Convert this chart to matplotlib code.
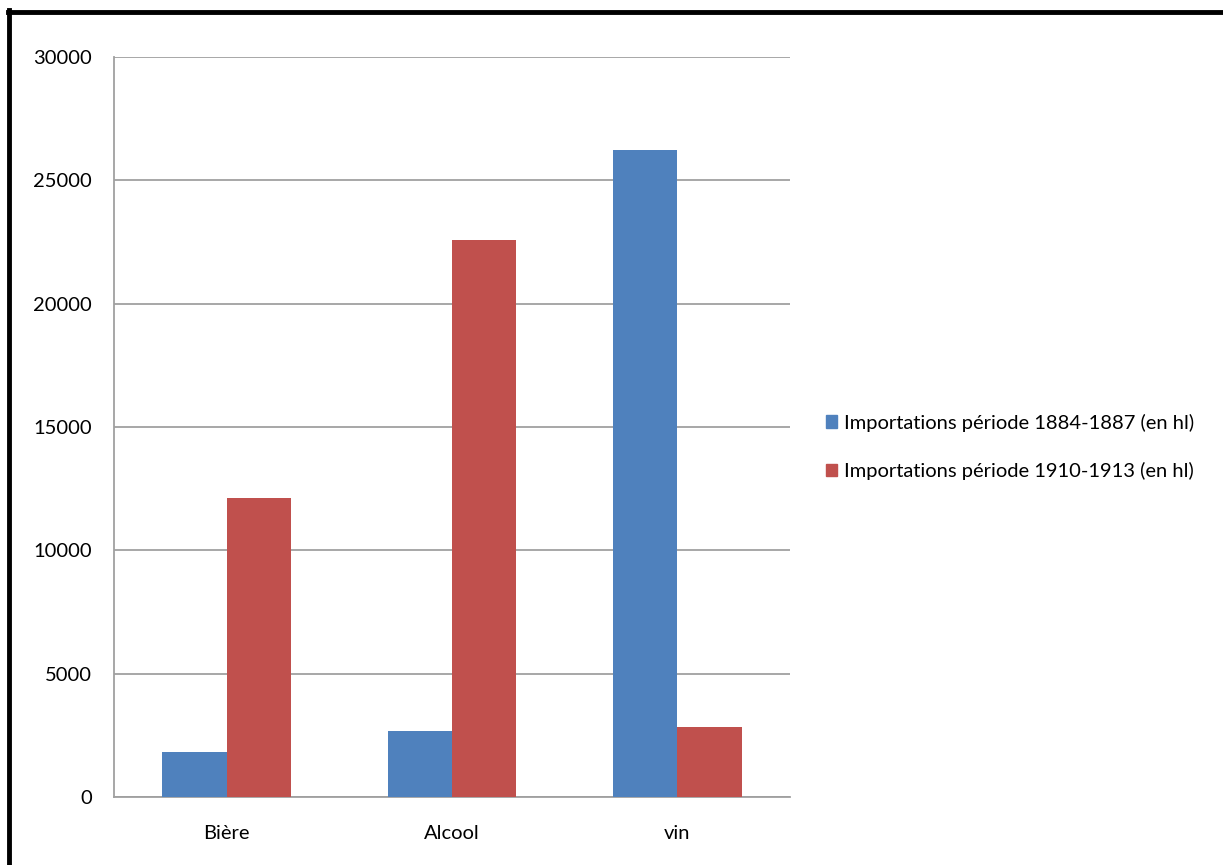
import numpy as np
import matplotlib
matplotlib.use('Agg')
import matplotlib.pyplot as plt
from matplotlib.patches import Patch
from matplotlib.lines import Line2D

# Données
categories = ['Bière', 'Alcool', 'vin']
import_1884_1887 = [1830, 2680, 26240]
import_1910_1913 = [12130, 22590, 2840]
series_labels = ['Importations période 1884-1887 (en hl)',
                 'Importations période 1910-1913 (en hl)']

plt.rcParams['font.family'] = ['Lato', 'DejaVu Sans']

fig = plt.figure(figsize=(12.23, 8.65), dpi=100)
ax = fig.add_axes([114 / 1223, 1 - 797 / 865, 676 / 1223, 740 / 865])

x = np.arange(len(categories))
w = 0.2857
ax.bar(x - w / 2, import_1884_1887, w, color='#4F81BD', zorder=3)
ax.bar(x + w / 2, import_1910_1913, w, color='#C0504D', zorder=3)

ax.set_xlim(-0.5, len(categories) - 0.5)
ax.set_ylim(0, 30000)
ax.set_yticks(np.arange(0, 30001, 5000))
ax.set_xticks(x)
ax.set_xticklabels(categories)
ax.yaxis.grid(True, color='#a0a0a0', linewidth=1.3, zorder=0)
ax.tick_params(axis='both', length=0, labelsize=14.5, colors='#000000')
ax.tick_params(axis='y', pad=16)
ax.tick_params(axis='x', pad=20)
for s in ['top', 'right']:
    ax.spines[s].set_visible(False)
for s in ['left', 'bottom']:
    ax.spines[s].set_color('#a0a0a0')
    ax.spines[s].set_linewidth(1.3)

handles = [Patch(color='#4F81BD'), Patch(color='#C0504D')]
fig.legend(handles, series_labels, loc='center left', bbox_to_anchor=(808 / 1223, 1 - 447 / 865),
           frameon=False, fontsize=14.5, handlelength=0.55, handleheight=0.6, handletextpad=0.35,
           labelspacing=1.5)

# cadre noir (haut et gauche)
fig.add_artist(Line2D([8 / 1223, 1], [1 - 11.5 / 865, 1 - 11.5 / 865], color='black', linewidth=3.5,
                      transform=fig.transFigure))
fig.add_artist(Line2D([8.5 / 1223, 8.5 / 1223], [0, 1 - 10 / 865], color='black', linewidth=3.5,
                      transform=fig.transFigure))

fig.savefig('out.png', dpi=100)
